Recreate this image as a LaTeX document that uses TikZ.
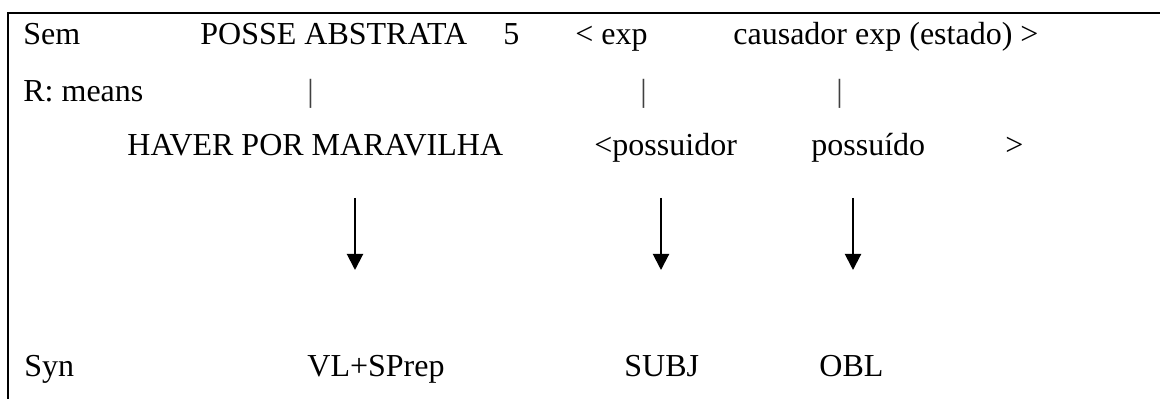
\documentclass[tikz,border=0pt]{standalone}
\usepackage{fontspec}
\setmainfont{Liberation Serif}
\usepackage{tikz}
\usetikzlibrary{arrows.meta}

\begin{document}
\begin{tikzpicture}[x=0.5pt,y=-0.5pt]
    \tikzset{word/.style = {anchor=base west,inner sep=0pt,font=\fontsize{16}{19}\selectfont}}
    \tikzset{bar/.style = {word,text=black!75}}
    \tikzset{map/.style = {-{Triangle[width=8pt,length=8pt]},line width=1pt}}
    \useasboundingbox (0,0) rectangle (1160,399);
    % frame
    \draw[line width=1.25pt] (1160,13) -- (8,13) -- (8,399);
    % semantic row
    \node[word] (sem) at (23,45) {Sem};
    \node[word] (posse) at (200,45) {POSSE ABSTRATA};
    \node[word] (cinco) at (503,45) {5};
    \node[word] (exp) at (575,45) {< exp};
    \node[word] (caus) at (733,45) {causador exp (estado) >};
    % mapping row
    \node[word] (rmeans) at (23,102) {R: means};
    \node[bar] (bar1) at (307,102) {|};
    \node[bar] (bar2) at (640,102) {|};
    \node[bar] (bar3) at (836,102) {|};
    % predicate row
    \node[word] (haver) at (127,156) {HAVER POR MARAVILHA};
    \node[word] (possuidor) at (594,156) {<possuidor};
    \node[word] (possuido) at (811,156) {possuído};
    \node[word] (fecha) at (1005,156) {>};
    % syntactic row
    \node[word] (syn) at (24,377) {Syn};
    \node[word] (vl) at (307,377) {VL+SPrep};
    \node[word] (subj) at (624,377) {SUBJ};
    \node[word] (obl) at (819,377) {OBL};
    %edges
    \coordinate (s1) at (355,198);
    \coordinate (e1) at (355,270);
    \coordinate (s2) at (661,198);
    \coordinate (e2) at (661,270);
    \coordinate (s3) at (853,198);
    \coordinate (e3) at (853,270);
    \draw[map] (s1) -- (e1);
    \draw[map] (s2) -- (e2);
    \draw[map] (s3) -- (e3);
\end{tikzpicture}
\end{document}
